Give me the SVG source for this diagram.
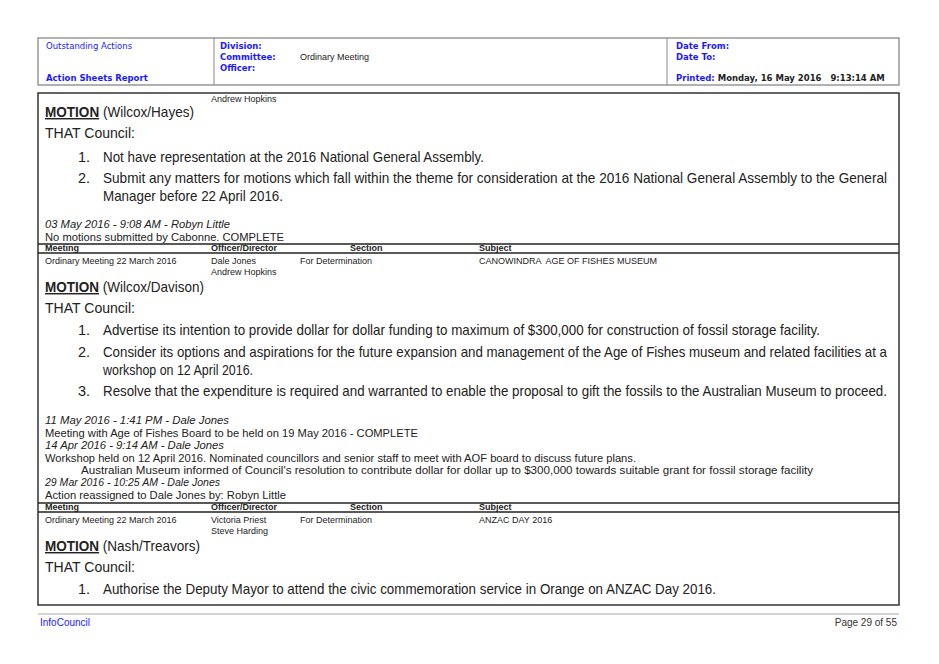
<svg xmlns="http://www.w3.org/2000/svg" width="939" height="664" viewBox="0 0 939 664">
<style>
.b{font-family:"DejaVu Sans",Verdana,sans-serif;font-size:8.5px;fill:#1a1aff}
.bb{font-family:"DejaVu Sans",Verdana,sans-serif;font-size:8.5px;fill:#1a1aff;font-weight:bold}
.s{font-family:"Liberation Sans",Arial,sans-serif;font-size:9px;fill:#222}
.sb{font-family:"Liberation Sans",Arial,sans-serif;font-size:9px;fill:#222;font-weight:bold}
.m{font-family:"Liberation Sans",Arial,sans-serif;font-size:14.5px;fill:#222}
.n{font-family:"Liberation Sans",Arial,sans-serif;font-size:11px;fill:#222}
.i{font-family:"Liberation Sans",Arial,sans-serif;font-size:11px;fill:#222;font-style:italic}
.f{font-family:"Liberation Sans",Arial,sans-serif;font-size:10px;fill:#333}
.u{font-weight:bold;text-decoration:underline}
</style>
<rect width="939" height="664" fill="#fff"/>
<g id="header" fill="none" stroke="#888">
<rect x="38" y="38" width="861" height="47" stroke-width="1.3"/>
<line x1="214" y1="38" x2="214" y2="85"/>
<line x1="667" y1="38" x2="667" y2="85"/>
</g>
<g id="header-text">
<text x="46" y="49" class="b">Outstanding Actions</text>
<text x="46" y="81" class="bb">Action Sheets Report</text>
<text x="220" y="49" class="bb">Division:</text>
<text x="220" y="60" class="bb">Committee:</text>
<text x="300" y="60" class="s">Ordinary Meeting</text>
<text x="220" y="71" class="bb">Officer:</text>
<text x="676" y="49" class="bb">Date From:</text>
<text x="676" y="60" class="bb">Date To:</text>
<text x="676" y="81" class="bb" xml:space="preserve">Printed: <tspan fill="#222">Monday, 16 May 2016   9:13:14 AM</tspan></text>
</g>
<rect x="38" y="93" width="861" height="512" fill="none" stroke="#333" stroke-width="1.5"/>
<g id="item1">
<text x="211" y="102" class="s">Andrew Hopkins</text>
<text x="45" y="117" class="m" textLength="149" lengthAdjust="spacingAndGlyphs"><tspan class="u">MOTION</tspan> (Wilcox/Hayes)</text>
<text x="45" y="138" class="m" textLength="90" lengthAdjust="spacingAndGlyphs">THAT Council:</text>
<text x="78" y="162" class="m">1.</text>
<text x="103" y="162" class="m" textLength="381" lengthAdjust="spacingAndGlyphs">Not have representation at the 2016 National General Assembly.</text>
<text x="78" y="183" class="m">2.</text>
<text x="103" y="183" class="m" textLength="784" lengthAdjust="spacingAndGlyphs">Submit any matters for motions which fall within the theme for consideration at the 2016 National General Assembly to the General</text>
<text x="103" y="201" class="m" textLength="180" lengthAdjust="spacingAndGlyphs">Manager before 22 April 2016.</text>
<text x="45" y="228" class="i" textLength="185" lengthAdjust="spacingAndGlyphs">03 May 2016 - 9:08 AM - Robyn Little</text>
<text x="45" y="241" class="n" textLength="239" lengthAdjust="spacingAndGlyphs">No motions submitted by Cabonne. COMPLETE</text>
</g>
<g id="table1">
<line x1="38" y1="244" x2="899" y2="244" stroke="#222" stroke-width="1.5"/>
<line x1="38" y1="253" x2="899" y2="253" stroke="#222" stroke-width="1.5"/>
<text x="45" y="251" class="sb">Meeting</text>
<text x="211" y="251" class="sb">Officer/Director</text>
<text x="350" y="251" class="sb">Section</text>
<text x="479" y="251" class="sb">Subject</text>
<text x="45" y="264" class="s">Ordinary Meeting 22 March 2016</text>
<text x="211" y="264" class="s">Dale Jones</text>
<text x="211" y="275" class="s">Andrew Hopkins</text>
<text x="300" y="264" class="s">For Determination</text>
<text x="479" y="264" class="s" xml:space="preserve">CANOWINDRA  AGE OF FISHES MUSEUM</text>
</g>
<g id="item2">
<text x="45" y="292" class="m" textLength="159" lengthAdjust="spacingAndGlyphs"><tspan class="u">MOTION</tspan> (Wilcox/Davison)</text>
<text x="45" y="313" class="m" textLength="90" lengthAdjust="spacingAndGlyphs">THAT Council:</text>
<text x="78" y="335" class="m">1.</text>
<text x="103" y="335" class="m" textLength="717" lengthAdjust="spacingAndGlyphs">Advertise its intention to provide dollar for dollar funding to maximum of $300,000 for construction of fossil storage facility.</text>
<text x="78" y="357" class="m">2.</text>
<text x="103" y="357" class="m" textLength="784" lengthAdjust="spacingAndGlyphs">Consider its options and aspirations for the future expansion and management of the Age of Fishes museum and related facilities at a</text>
<text x="103" y="375" class="m" textLength="150" lengthAdjust="spacingAndGlyphs">workshop on 12 April 2016.</text>
<text x="78" y="396" class="m">3.</text>
<text x="103" y="396" class="m" textLength="784" lengthAdjust="spacingAndGlyphs">Resolve that the expenditure is required and warranted to enable the proposal to gift the fossils to the Australian Museum to proceed.</text>
<text x="45" y="424" class="i" textLength="184" lengthAdjust="spacingAndGlyphs">11 May 2016 - 1:41 PM - Dale Jones</text>
<text x="45" y="437" class="n" textLength="373" lengthAdjust="spacingAndGlyphs">Meeting with Age of Fishes Board to be held on 19 May 2016 - COMPLETE</text>
<text x="45" y="449" class="i" textLength="179" lengthAdjust="spacingAndGlyphs">14 Apr 2016 - 9:14 AM - Dale Jones</text>
<text x="45" y="462" class="n" textLength="591" lengthAdjust="spacingAndGlyphs">Workshop held on 12 April 2016. Nominated councillors and senior staff to meet with AOF board to discuss future plans.</text>
<text x="81" y="474" class="n" textLength="732" lengthAdjust="spacingAndGlyphs">Australian Museum informed of Council's resolution to contribute dollar for dollar up to $300,000 towards suitable grant for fossil storage facility</text>
<text x="45" y="486" class="i" textLength="175" lengthAdjust="spacingAndGlyphs">29 Mar 2016 - 10:25 AM - Dale Jones</text>
<text x="45" y="499" class="n" textLength="241" lengthAdjust="spacingAndGlyphs">Action reassigned to Dale Jones by: Robyn Little</text>
</g>
<g id="table2">
<line x1="38" y1="503" x2="899" y2="503" stroke="#222" stroke-width="1.5"/>
<line x1="38" y1="512" x2="899" y2="512" stroke="#222" stroke-width="1.5"/>
<text x="45" y="510" class="sb">Meeting</text>
<text x="211" y="510" class="sb">Officer/Director</text>
<text x="350" y="510" class="sb">Section</text>
<text x="479" y="510" class="sb">Subject</text>
<text x="45" y="523" class="s">Ordinary Meeting 22 March 2016</text>
<text x="211" y="523" class="s">Victoria Priest</text>
<text x="211" y="534" class="s">Steve Harding</text>
<text x="300" y="523" class="s">For Determination</text>
<text x="479" y="523" class="s">ANZAC DAY 2016</text>
</g>
<g id="item3">
<text x="45" y="551" class="m" textLength="155" lengthAdjust="spacingAndGlyphs"><tspan class="u">MOTION</tspan> (Nash/Treavors)</text>
<text x="45" y="572" class="m" textLength="90" lengthAdjust="spacingAndGlyphs">THAT Council:</text>
<text x="78" y="594" class="m">1.</text>
<text x="103" y="594" class="m" textLength="613" lengthAdjust="spacingAndGlyphs">Authorise the Deputy Mayor to attend the civic commemoration service in Orange on ANZAC Day 2016.</text>
</g>
<g id="footer">
<line x1="38" y1="614" x2="899" y2="614" stroke="#aaa"/>
<text x="40" y="626" class="f" style="fill:#1a1aff">InfoCouncil</text>
<text x="897" y="626" class="f" text-anchor="end">Page 29 of 55</text>
</g>
</svg>
